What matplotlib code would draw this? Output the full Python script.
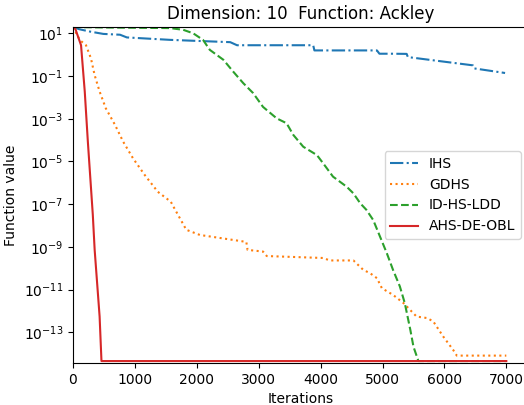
import numpy as np
import matplotlib
matplotlib.use("Agg")
import matplotlib.pyplot as plt

# convergence curves (iteration, best function value)
ihs_iter = [0, 100, 270, 490, 760, 870, 1570, 1890, 2540, 2650, 3880, 3900, 4910, 4950,
            5170, 5390, 5410, 6460, 6480, 6980]
ihs_val = [20, 15.8, 12.3, 9.5, 8.7, 6.5, 5.0, 4.6, 3.9, 2.8, 2.8, 1.6, 1.6, 1.12,
           1.12, 1.1, 0.78, 0.32, 0.23, 0.14]

gdhs_iter = [0, 110, 210, 290, 350, 430, 530, 680, 810, 970, 1160, 1370, 1580, 1620,
             1830, 2050, 2800, 2820, 3070, 3130, 4040, 4150, 4530, 4690, 4800, 4910,
             4990, 5170, 5340, 5550, 5720, 5820, 5980, 6140, 6200, 7000]
gdhs_val = [20, 4.9, 2.8, 0.68, 0.11, 0.019, 3.1e-3, 5.1e-4, 8.5e-5, 1.4e-5, 2.3e-6,
            3.8e-7, 1.3e-7, 7.9e-8, 6.3e-9, 3.6e-9, 1.7e-9, 7.2e-10, 6.0e-10, 3.7e-10,
            3.0e-10, 2.3e-10, 2.3e-10, 8.3e-11, 5.8e-11, 3.4e-11, 1.15e-11, 5.6e-12,
            2.3e-12, 5.4e-13, 4.6e-13, 3.2e-13, 6.3e-14, 1.5e-14, 7.99e-15, 7.99e-15]

idhs_iter = [0, 490, 1570, 1780, 1940, 2100, 2210, 2430, 2590, 2750, 2910, 3070, 3290,
             3450, 3560, 3720, 3940, 4040, 4200, 4420, 4530, 4640, 4740, 4850, 4960,
             5070, 5170, 5280, 5360, 5450, 5500, 5550, 5580, 7000]
idhs_val = [20, 19, 17.8, 14.8, 10.2, 5.0, 1.7, 0.58, 0.16, 0.047, 0.016, 3.6e-3,
            1.05e-3, 6.2e-4, 1.74e-4, 4.9e-5, 2.0e-5, 8.3e-6, 1.95e-6, 6.6e-7, 3.2e-7,
            1.1e-7, 5.4e-8, 1.8e-8, 3.0e-9, 5.0e-10, 8.3e-11, 1.4e-11, 2.3e-12,
            1.26e-13, 2.1e-14, 7.9e-15, 4.44e-15, 4.44e-15]

ahs_iter = [0, 40, 130, 190, 240, 320, 350, 430, 460, 7000]
ahs_val = [20, 15.8, 2.8, 0.019, 8.5e-5, 3.2e-8, 7.2e-10, 5.4e-13, 4.44e-15, 4.44e-15]

series = [
    ("IHS", ihs_iter, ihs_val, "-."),
    ("GDHS", gdhs_iter, gdhs_val, ":"),
    ("ID-HS-LDD", idhs_iter, idhs_val, "--"),
    ("AHS-DE-OBL", ahs_iter, ahs_val, "-"),
]
colors = ["tab:blue", "tab:orange", "tab:green", "tab:red"]

fig = plt.figure(figsize=(5.24, 4.05), dpi=100)
# the original image is cropped on the right, so the axes run past the figure edge
ax = fig.add_axes([0.1393, 0.1037, 0.8683, 0.8296])

for (name, it, val, ls), c in zip(series, colors):
    ax.plot(it, val, ls, color=c, label=name)

ax.set_yscale("log")
ax.set_xlim(0, 7350)
ax.set_ylim(3.6e-15, 20)
ax.set_xticks([0, 1000, 2000, 3000, 4000, 5000, 6000, 7000])
ax.set_yticks([1e1, 1e-1, 1e-3, 1e-5, 1e-7, 1e-9, 1e-11, 1e-13])
ax.minorticks_off()
ax.spines["right"].set_visible(False)
ax.set_xlabel("Iterations")
ax.set_ylabel("Function value")
ax.set_title("Dimension: 10  Function: Ackley")
ax.legend(loc="center right")

fig.savefig("out.png", dpi=100)
